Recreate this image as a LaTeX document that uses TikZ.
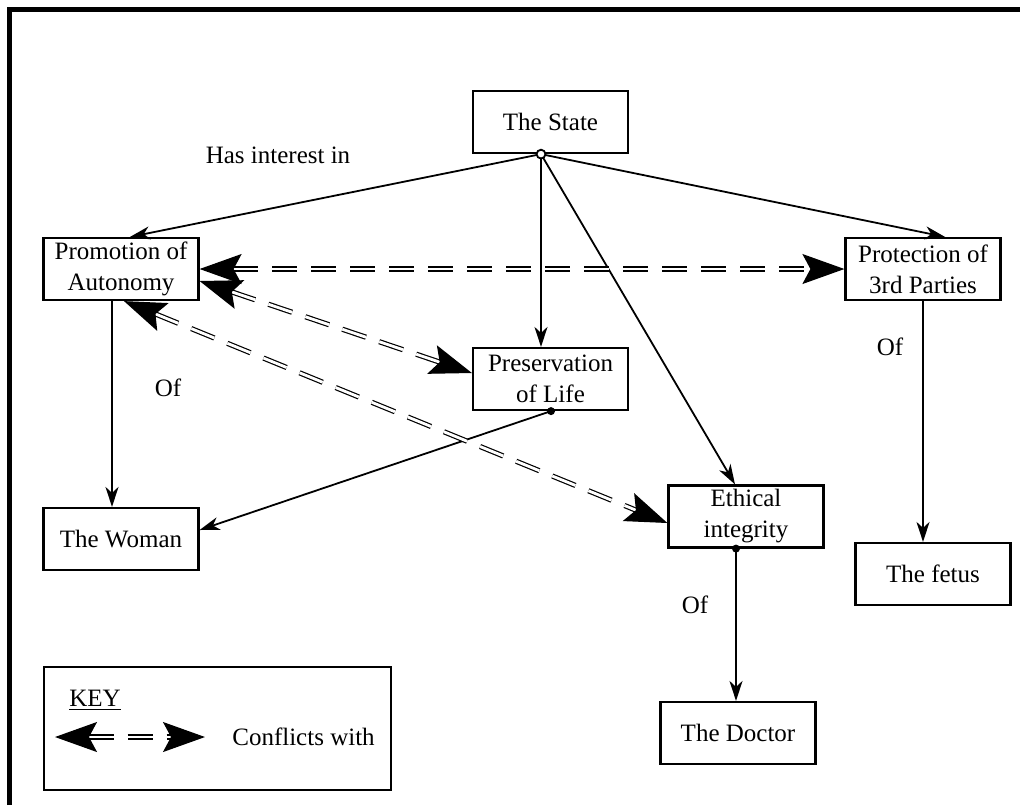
\documentclass[tikz,border=0pt]{standalone}
\usepackage{fontspec}
\setmainfont{Liberation Serif}
\usetikzlibrary{arrows.meta,calc}
\begin{document}
\begin{tikzpicture}[x=0.5pt,y=-0.5pt,
  txt/.style={font=\fontsize{12.5}{15.5}\selectfont},
  box/.style={txt,draw,line width=1.1pt,minimum width=77.5pt,minimum height=31pt,align=center,inner sep=0pt},
  lbl/.style={txt,inner sep=0pt},
  rel/.style={line width=0.9pt,-{Stealth[length=10pt,width=6.5pt,inset=3pt]}},
  conflict/.style={line width=0.6pt,double,double distance=1.4pt,dash pattern=on 12.5pt off 7pt,{Stealth[length=21pt,width=15pt,inset=4pt]}-{Stealth[length=21pt,width=15pt,inset=4pt]}},
  frame/.style={line width=2.25pt}]
\useasboundingbox (0,0) rectangle (1020,805);
% outer frame (left and top edges)
\coordinate (fTL) at (9.5,9.3);
\coordinate (fBL) at (9.5,805);
\coordinate (fTR) at (1020,9.3);
\draw[frame] (fBL) -- (fTL) -- (fTR);

% nodes
\node[box] (state) at (550.5,122) {The State};
\node[box] (prom)  at (121,269) {Promotion of\\Autonomy};
\node[box] (prot)  at (923,269) {Protection of\\3rd Parties};
\node[box] (pres)  at (550.5,379) {Preservation\\of Life};
\node[box] (eth)   at (746,516.5) {Ethical\\integrity};
\node[box] (woman) at (121,539) {The Woman};
\node[box] (fetus) at (933,574) {The fetus};
\node[box] (doc)   at (738,733) {The Doctor};

% labels
\node[lbl] (lhas) at (278,155) {Has interest in};
\node[lbl] (lof1) at (168,388) {Of};
\node[lbl] (lof2) at (890,347) {Of};
\node[lbl] (lof3) at (695,605) {Of};

% has-interest arrows from the state
\coordinate (s0) at ($(state.south)+(-9.5,0)$);
\draw[rel] (s0) -- ($(prom.north)+(9,0)$);
\draw[rel] (s0) -- ($(prot.north)+(22,0)$);
\draw[rel] (s0) -- ($(pres.north)+(-9.5,0)$);
\draw[rel] (s0) -- ($(eth.north)+(-11,0)$);
\draw[line width=0.9pt,fill=white] (s0) circle (2.2pt);

% "of" arrows
\draw[rel] ($(prom.south)+(-9,0)$) -- ($(woman.north)+(-9,0)$);
\coordinate (p0) at ($(pres.south)+(0.5,0)$);
\draw[rel] (p0) -- ($(woman.east)+(0,-9)$);
\fill (p0) circle (2pt);
\draw[rel] (prot.south) -- ($(fetus.north)+(-10,0)$);
\coordinate (e0) at ($(eth.south)+(-10,0)$);
\draw[rel] (e0) -- ($(doc.north)+(-2,0)$);
\fill (e0) circle (2pt);

% conflicts
\draw[conflict] (prom.east) -- (prot.west);
\draw[conflict] ($(prom.east)+(0,12)$) -- ($(pres.west)+(0,-6)$);
\draw[conflict] ($(prom.south)+(3,0)$) -- ($(eth.west)+(0,6.5)$);

% key
\node[draw,line width=1.1pt,minimum width=173.5pt,minimum height=61.5pt,inner sep=0pt] (key) at (217.5,728.5) {};
\node[lbl] (keyt) at (95,700) {\underline{KEY}};
\coordinate (ka) at (55,737);
\coordinate (kb) at (205,737);
\draw[conflict] (ka) -- (kb);
\node[lbl] (keyl) at (303.5,737) {Conflicts with};
\end{tikzpicture}
\end{document}
